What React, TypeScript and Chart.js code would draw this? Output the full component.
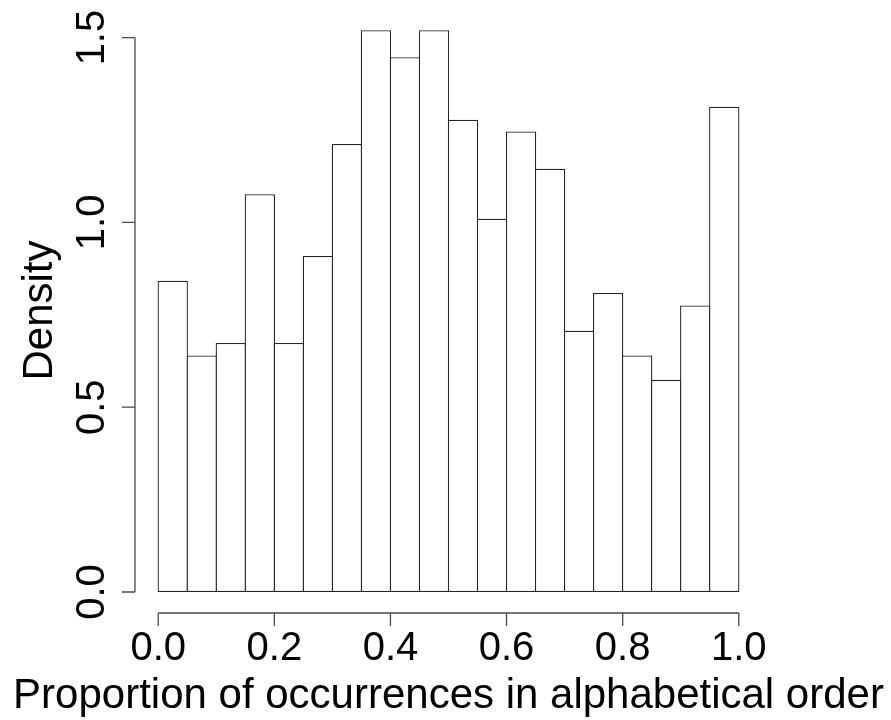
import React, { useEffect, useRef } from "react";
import { Chart, registerables } from "chart.js";

Chart.register(...registerables);

// ---- data ----
const binStarts = [0, 0.05, 0.1, 0.15, 0.2, 0.25, 0.3, 0.35, 0.4, 0.45, 0.5, 0.55, 0.6, 0.65, 0.7, 0.75, 0.8, 0.85, 0.9, 0.95];
const densities = [0.842, 0.64, 0.674, 1.076, 0.674, 0.909, 1.212, 1.52, 1.447, 1.52, 1.278, 1.01, 1.246, 1.145, 0.707, 0.809, 0.64, 0.574, 0.775, 1.313];
const binWidth = 0.05;
const xTicks = [0, 0.2, 0.4, 0.6, 0.8, 1.0];
const xTickLabels = ["0.0", "0.2", "0.4", "0.6", "0.8", "1.0"];
const yTicks = [0, 0.5, 1.0, 1.5];
const yTickLabels = ["0.0", "0.5", "1.0", "1.5"];
const xTitle = "Proportion of occurrences in alphabetical order";
const yTitle = "Density";

const FONT = '"Liberation Sans", Arial, Helvetica, sans-serif';

const rAxesPlugin = {
  id: "rAxes",
  afterDraw(chart: any) {
    const ctx = chart.ctx as CanvasRenderingContext2D;
    const xs = chart.scales.x;
    const ys = chart.scales.y;
    const area = chart.chartArea;
    const axisY = area.bottom;
    const axisX = area.left;
    const tickLen = 13;
    ctx.save();
    ctx.strokeStyle = "#4a4a4a";
    ctx.lineWidth = 1.3;
    // x axis
    ctx.beginPath();
    const xa = xs.getPixelForValue(xTicks[0]);
    const xb = xs.getPixelForValue(xTicks[xTicks.length - 1]);
    ctx.moveTo(xa, axisY);
    ctx.lineTo(xb, axisY);
    xTicks.forEach((t) => {
      const px = xs.getPixelForValue(t);
      ctx.moveTo(px, axisY);
      ctx.lineTo(px, axisY + tickLen);
    });
    // y axis
    const ya = ys.getPixelForValue(yTicks[0]);
    const yb = ys.getPixelForValue(yTicks[yTicks.length - 1]);
    ctx.moveTo(axisX, ya);
    ctx.lineTo(axisX, yb);
    yTicks.forEach((t) => {
      const py = ys.getPixelForValue(t);
      ctx.moveTo(axisX, py);
      ctx.lineTo(axisX - tickLen, py);
    });
    ctx.stroke();

    // tick labels
    ctx.fillStyle = "#000";
    ctx.font = `40px ${FONT}`;
    ctx.textAlign = "center";
    ctx.textBaseline = "alphabetic";
    xTicks.forEach((t, i) => {
      ctx.fillText(xTickLabels[i], xs.getPixelForValue(t), axisY + 47);
    });
    yTicks.forEach((t, i) => {
      ctx.save();
      ctx.translate(axisX - 31, ys.getPixelForValue(t));
      ctx.rotate(-Math.PI / 2);
      ctx.fillText(yTickLabels[i], 0, 0);
      ctx.restore();
    });

    // titles
    ctx.font = `42px ${FONT}`;
    ctx.fillText(xTitle, (area.left + area.right) / 2, axisY + 95);
    ctx.save();
    ctx.translate(axisX - 83, (area.top + area.bottom) / 2);
    ctx.rotate(-Math.PI / 2);
    ctx.fillText(yTitle, 0, 0);
    ctx.restore();
    ctx.restore();
  },
};

export default function App() {
  const ref = useRef<HTMLCanvasElement>(null);

  useEffect(() => {
    if (!ref.current) return;
    const data = binStarts.map((s, i) => ({ x: s + binWidth / 2, y: densities[i] }));
    const chart = new Chart(ref.current, {
      type: "bar",
      data: {
        datasets: [
          {
            data,
            backgroundColor: "#ffffff",
            borderColor: "#262626",
            borderWidth: 1.3,
            borderSkipped: false,
            barPercentage: 1.045,
            categoryPercentage: 1,
          },
        ],
      },
      options: {
        responsive: false,
        animation: false,
        layout: { padding: { left: 135, right: 129, top: 8, bottom: 107 } },
        plugins: { legend: { display: false }, tooltip: { enabled: false } },
        scales: {
          x: { type: "linear", min: -0.04, max: 1.04, offset: false, display: false },
          y: { type: "linear", min: -0.0568, max: 1.58, display: false },
        },
      },
      plugins: [rAxesPlugin],
    });
    return () => chart.destroy();
  }, []);

  return (
    <div style={{ position: "absolute", left: 0, top: 0, width: 891, height: 720, background: "#fff" }}>
      <canvas ref={ref} width={891} height={720} style={{ display: "block", width: 891, height: 720 }} />
    </div>
  );
}
